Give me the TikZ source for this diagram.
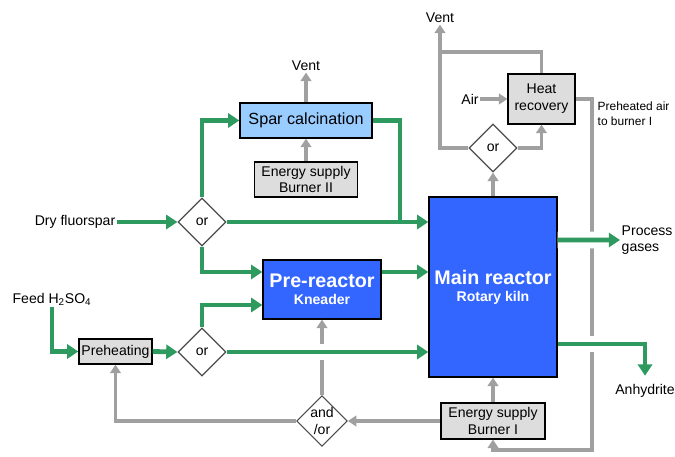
\documentclass[tikz,border=0pt]{standalone}
\usepackage{fontspec}
\setmainfont{Liberation Sans}
\usepackage{xcolor}
\definecolor{flowgreen}{HTML}{2E9A5F}
\definecolor{reactorblue}{HTML}{3366FF}
\definecolor{calcblue}{HTML}{99CCFF}
\definecolor{utilgrey}{HTML}{A0A0A0}
\definecolor{boxgrey}{HTML}{DDDDDD}
\usepackage{tikz}
\usetikzlibrary{positioning,shapes.geometric,arrows.meta}

\begin{document}
\begin{tikzpicture}[
  x=0.025cm, y=-0.025cm,
  txt/.style={font=\fontsize{10}{12}\selectfont, inner sep=1pt},
  block/.style={draw=black, line width=0.9pt, fill=reactorblue, text=white,
                align=center, inner sep=0pt, font=\bfseries},
  lightblock/.style={draw=black, line width=0.9pt, fill=calcblue,
                     inner sep=0pt, font=\fontsize{11.5}{13}\selectfont},
  greybox/.style={draw=black, line width=0.9pt, fill=boxgrey, align=center,
                  inner sep=0pt, font=\fontsize{10}{12}\selectfont},
  decision/.style={draw=black!70, line width=0.8pt, fill=white, diamond, aspect=1,
                   minimum size=1.2cm, inner sep=0pt, align=center,
                   font=\fontsize{10}{12}\selectfont},
  flow/.style={-{Triangle[length=8pt,width=10pt]}, line width=3.4pt, flowgreen},
  flowline/.style={line width=3.4pt, flowgreen},
  utility/.style={-{Triangle[length=6pt,width=7.5pt]}, line width=2.6pt, utilgrey},
  utilline/.style={line width=2.6pt, utilgrey},
  bridge/.style={preaction={draw=white, -, line width=12pt}}
]
  \useasboundingbox (0,0) rectangle (675,457);

  % Process units
  \node[lightblock, minimum width=3.3cm, minimum height=0.875cm] (spar) at (306,120.5) {Spar calcination};
  \node[greybox, minimum width=2.575cm, minimum height=0.875cm] (burner2) at (306,179.5) {Energy supply\\Burner II};
  \node[block, minimum width=2.95cm, minimum height=1.475cm] (pre) at (322,289.5)
    {{\fontsize{14}{16}\selectfont Pre-reactor}\\{\fontsize{10}{12}\selectfont Kneader}};
  \node[block, minimum width=3.2cm, minimum height=4.5cm] (main) at (493,287)
    {{\fontsize{14}{16}\selectfont Main reactor}\\{\fontsize{10}{12}\selectfont Rotary kiln}};
  \node[greybox, minimum width=1.675cm, minimum height=1.25cm] (heat) at (541.5,99) {Heat\\recovery};
  \node[greybox, minimum width=1.825cm, minimum height=0.625cm] (preheat) at (115.5,351.5) {Preheating};
  \node[greybox, minimum width=2.6cm, minimum height=0.9cm] (burner1) at (493,421) {Energy supply\\Burner I};

  % Decisions
  \node[decision] (split1) at (202,222) {or};
  \node[decision] (split2) at (202,352) {or};
  \node[decision] (offgas) at (493,148) {or};
  \node[decision, minimum size=1.25cm] (andor) at (322,421) {and\\/or};

  % Streams in and out
  \node[txt] (vent1) at (306,66) {Vent};
  \node[txt] (vent2) at (440,18) {Vent};
  \node[txt] (air) at (470,99) {Air};
  \node[txt] (fluorspar) at (75,222) {Dry fluorspar};
  \node[txt] (feed) at (52,299) {Feed H\textsubscript{2}SO\textsubscript{4}};
  \node[txt, anchor=west, align=left, font=\fontsize{10}{11}\selectfont] (gases) at (620,240) {Process\\gases};
  \node[txt] (anhydrite) at (645,391) {Anhydrite};
  \node[txt, anchor=west, align=left, font=\fontsize{8.5}{10.5}\selectfont] (preair) at (596,114) {Preheated air\\to burner I};

  \coordinate (sparjoin) at (400,222);
  \coordinate (ventjoin) at (440,52);
  \coordinate (airloop) at (592,450);

  % Utility lines
  \draw[utility] (burner2.north) -- (spar.south);
  \draw[utility] (spar.north) -- (vent1.south);
  \draw[utility] (main.north) -- (offgas.south);
  \draw[utility] (offgas.east) -| (heat.south);
  \draw[utility] (offgas.west) -| (vent2.south);
  \draw[utilline] (heat.north) |- (ventjoin);
  \draw[utility] (air.east) -- (heat.west);
  \draw[utility] (heat.east) -| (airloop) -| (burner1.south);
  \draw[utility] (burner1.north) -- (main.south);
  \draw[utility] (burner1.west) -- (andor.east);
  \draw[utility] (andor.north) -- (pre.south);
  \draw[utility] (andor.west) -| (preheat.south);

  % Material flow
  \draw[flow] (fluorspar.east) -- (split1.west);
  \draw[flow] (split1.north) |- (spar.west);
  \draw[flowline] (spar.east) -| (sparjoin);
  \draw[flow] (split1.east) -- (split1.east -| main.west);
  \draw[flow] (split1.south) |- ([yshift=0.4375cm]pre.west);
  \draw[flow] ([yshift=0.4375cm]pre.east) -- ([yshift=0.4375cm]pre.east -| main.west);
  \draw[flow] (feed.south) |- (preheat.west);
  \draw[flow] (preheat.east) -- (split2.west);
  \draw[flow] (split2.north) |- ([yshift=-0.3875cm]pre.west);
  \draw[flow, bridge] (split2.east) -- (split2.east -| main.west);
  \draw[flow, bridge] ([yshift=1.175cm]main.east) -- (gases.west);
  \draw[flow, bridge] ([yshift=-1.425cm]main.east) -| ([yshift=5pt]anhydrite.north);
\end{tikzpicture}
\end{document}
